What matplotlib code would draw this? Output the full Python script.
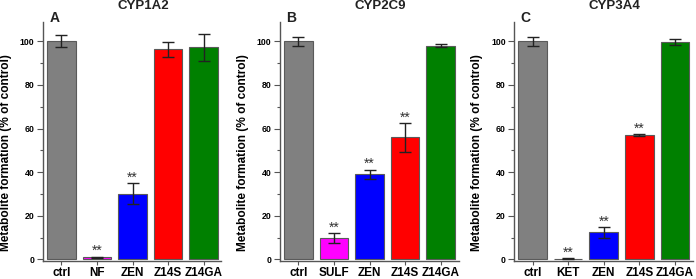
import matplotlib
matplotlib.use("Agg")
import matplotlib.pyplot as plt
import numpy as np

plt.rcParams['font.family'] = ['Liberation Sans', 'DejaVu Sans']

titles = ["CYP1A2", "CYP2C9", "CYP3A4"]
letters = ["A", "B", "C"]
categories = [
    ["ctrl", "NF", "ZEN", "Z14S", "Z14GA"],
    ["ctrl", "SULF", "ZEN", "Z14S", "Z14GA"],
    ["ctrl", "KET", "ZEN", "Z14S", "Z14GA"],
]
values = [
    [100.0, 1.0, 30.2, 96.3, 97.2],
    [100.0, 9.8, 39.0, 56.0, 98.0],
    [100.0, 0.4, 12.5, 57.0, 99.6],
]
errors = [
    [2.8, 0.3, 5.0, 3.3, 6.3],
    [2.0, 2.3, 2.2, 6.7, 0.7],
    [2.0, 0.2, 2.5, 0.3, 1.5],
]
significant = [
    [False, True, True, False, False],
    [False, True, True, True, False],
    [False, True, True, True, False],
]
bar_colors = ["#808080", "#FF00FF", "#0000FF", "#FF0000", "#008000"]

fig = plt.figure(figsize=(6.96, 2.79), dpi=100)
lefts = [42.8 / 696, 279.8 / 696, 514.0 / 696]
bottom = 1 - 260.5 / 279
height = (260.5 - 21.7) / 279
width = 178.7 / 696

spine_col = "#555555"
for i in range(3):
    ax = fig.add_axes([lefts[i], bottom, width, height])
    x = np.arange(len(categories[i]))
    ax.bar(x, values[i], width=0.8, color=bar_colors, edgecolor="#5a5a5a",
           linewidth=0.8, zorder=2)
    ax.errorbar(x, values[i], yerr=errors[i], fmt="none", ecolor="#222222",
                elinewidth=1.0, capsize=4.3, capthick=1.0, zorder=3)
    for xi, v, e, s in zip(x, values[i], errors[i], significant[i]):
        if s:
            ax.text(xi, v + e + 0.6, "**", ha="center", va="baseline",
                    fontsize=10, color="#333333")
    ax.set_xlim(-0.52, 4.5)
    ax.set_ylim(-0.5, 109)
    ax.set_xticks(x)
    ax.set_xticklabels(categories[i], fontsize=8.5, fontweight="bold")
    ax.set_yticks(np.arange(0, 101, 20))
    ax.set_yticks(np.arange(10, 100, 20), minor=True)
    ax.tick_params(axis="y", which="major", labelsize=6.3, length=4, width=0.8,
                   color=spine_col, pad=2)
    ax.tick_params(axis="y", which="minor", length=2, width=0.8, color=spine_col)
    ax.tick_params(axis="x", which="major", length=3, width=0.8, color=spine_col,
                   pad=2)
    for lab in ax.get_yticklabels():
        lab.set_fontweight("bold")
    for sp in ["top", "right"]:
        ax.spines[sp].set_visible(False)
    for sp in ["left", "bottom"]:
        ax.spines[sp].set_color(spine_col)
        ax.spines[sp].set_linewidth(1.0)
    ax.set_ylabel("Metabolite formation (% of control)", fontsize=8.6,
                  fontweight="bold")
    ax.yaxis.set_label_coords(-0.175, 0.45)
    ax.text(2.3, 1.065, titles[i], transform=ax.get_xaxis_transform(),
            ha="center", va="center", fontsize=9.5, fontweight="bold",
            color="#222222")
    ax.text(-0.2, 1.015, letters[i], transform=ax.get_xaxis_transform(),
            ha="center", va="center", fontsize=10, fontweight="bold",
            color="#222222")

fig.savefig("out.png", dpi=100)
